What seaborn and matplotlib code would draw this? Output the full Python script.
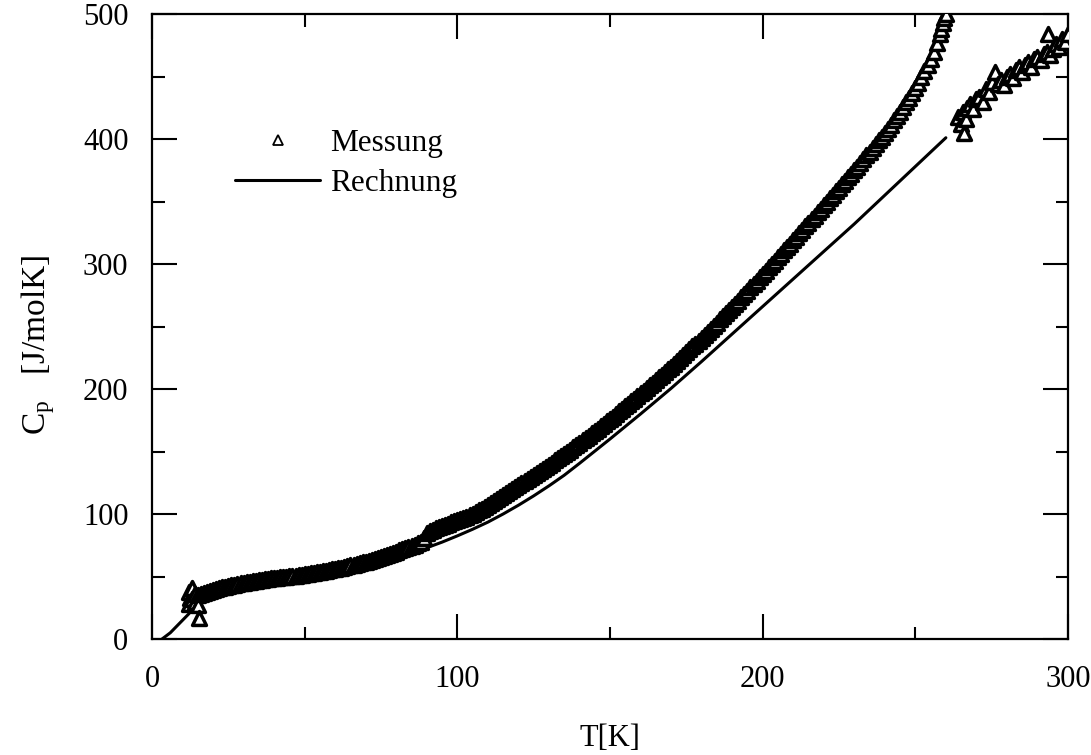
import matplotlib
matplotlib.use("Agg")
import matplotlib.pyplot as plt
import seaborn as sns
import pandas as pd
from matplotlib.lines import Line2D
from matplotlib.ticker import MultipleLocator

# ---- data ----
# low-temperature scatter cluster
meas0_T = [12, 12, 12.5, 13, 13, 14, 14, 15, 15, 15.4]
meas0_Cp = [38, 28, 33, 41, 32, 36, 30, 35, 27, 17]

# main measurement branch, 16 K .. 260 K
meas1_T = [16, 17, 18, 19, 20, 21, 22, 23, 24, 25, 26, 27, 28, 29, 30, 31, 32, 33, 34, 35,
           36, 37, 38, 39, 40, 41, 42, 43, 44, 45, 46, 47, 48, 49, 50, 51, 52, 53, 54, 55,
           56, 57, 58, 59, 60, 61, 62, 63, 64, 65, 66, 67, 68, 69, 70, 71, 72, 73, 74, 75,
           76, 77, 78, 79, 80, 81, 82, 83, 84, 85, 86, 87, 88, 89, 90, 91, 92, 93, 94, 95,
           96, 97, 98, 99, 100, 101, 102, 103, 104, 105, 106, 107, 108, 109, 110, 111, 112, 113, 114, 115,
           116, 117, 118, 119, 120, 121, 122, 123, 124, 125, 126, 127, 128, 129, 130, 131, 132, 133, 134, 135,
           136, 137, 138, 139, 140, 141, 142, 143, 144, 145, 146, 147, 148, 149, 150, 151, 152, 153, 154, 155,
           156, 157, 158, 159, 160, 161, 162, 163, 164, 165, 166, 167, 168, 169, 170, 171, 172, 173, 174, 175,
           176, 177, 178, 179, 180, 181, 182, 183, 184, 185, 186, 187, 188, 189, 190, 191, 192, 193, 194, 195,
           196, 197, 198, 199, 200, 201, 202, 203, 204, 205, 206, 207, 208, 209, 210, 211, 212, 213, 214, 215,
           216, 217, 218, 219, 220, 221, 222, 223, 224, 225, 226, 227, 228, 229, 230, 231, 232, 233, 234, 235,
           236, 237, 238, 239, 240, 241, 242, 243, 244, 245, 246, 247, 248, 249, 250, 251, 252, 253, 254, 255,
           256, 257, 258, 258.5, 259, 259.5, 260]
meas1_Cp = [36, 37, 38, 38.8, 39.5, 40.2, 41, 41.5, 42, 42.5, 43, 43.5, 44, 44.5, 45, 45.5, 46, 46.4, 46.8, 47.2,
            47.5, 47.9, 48.2, 48.6, 49, 49.2, 49.5, 49.8, 50, 50.3, 50.5, 50.8, 51, 51.4, 51.8, 52.1, 52.5, 53, 53.4, 53.9,
            54.3, 54.8, 55.2, 55.7, 56.2, 56.7, 57.2, 57.7, 58.3, 58.9, 59.5, 60.1, 60.7, 61.3, 62, 62.7, 63.5, 64.2, 65, 65.8,
            66.6, 67.4, 68.3, 69.1, 70, 70.9, 71.8, 72.7, 73.6, 74.5, 75.5, 76.6, 78, 81, 84.5, 86.5, 87.5, 88.5, 89.5, 90.5,
            91.5, 92.4, 93.3, 94.2, 95.2, 96.1, 97, 98, 99, 100.3, 101.6, 103, 104.4, 105.8, 107.3, 108.8, 110.3, 111.8, 113.4, 115,
            116.6, 118.3, 120, 121.8, 123.6, 125.2, 126.8, 128.4, 130, 131.6, 133.1, 134.7, 136.3, 137.9, 139.5, 141.2, 142.9, 144.6, 146.3, 148.1,
            149.8, 151.6, 153.4, 155.2, 157, 158.9, 160.8, 162.7, 164.6, 166.5, 168.4, 170.3, 172.2, 174.1, 176, 178, 180.1, 182.1, 184.2, 186.2,
            188.3, 190.3, 192.4, 194.4, 196.5, 198.6, 200.8, 202.9, 205.1, 207.2, 209.4, 211.5, 213.7, 215.8, 218, 220.3, 222.6, 224.9, 227.2, 229.5,
            231.8, 234.1, 236.4, 238.7, 241, 243.4, 245.9, 248.3, 250.8, 253.2, 255.7, 258.1, 260.6, 263, 265.5, 268.1, 270.8, 273.4, 276.1, 278.7,
            281.4, 284, 286.7, 289.3, 292, 294.7, 297.4, 300.1, 302.8, 305.5, 308.2, 310.9, 313.6, 316.3, 319, 321.8, 324.6, 327.4, 330.2, 333,
            335.8, 338.6, 341.4, 344.2, 347, 349.8, 352.6, 355.4, 358.2, 361, 363.8, 366.6, 369.4, 372.2, 375, 378, 381, 384, 387, 390,
            393, 396, 399, 402, 405, 408.3, 411.6, 415, 418.5, 422, 425.6, 429.3, 433.1, 437, 441, 445.2, 449.6, 454.2, 459, 464.2,
            470, 476.5, 484, 488, 492.5, 496.5, 500]

# high-temperature branch, 264 K .. 300 K
meas2_T = [264, 265, 265.5, 266, 266.5, 267, 268, 269, 270, 271, 272, 273, 274, 275, 276, 277, 278, 279, 280, 281,
           282, 283, 284, 285, 286, 287, 288, 289, 290, 291, 292, 293, 293.5, 294, 295, 296, 297, 298, 299, 300]
meas2_Cp = [418, 412, 422, 405, 416, 425, 428, 424, 432, 434, 430, 440, 438, 446, 454, 444, 447, 443, 450, 452,
            449, 455, 458, 454, 459, 462, 458, 464, 466, 463, 468, 470, 484, 467, 472, 476, 474, 480, 478, 484]

calc_T = [3.3, 6, 8, 10, 12, 14, 16, 18, 20, 25, 30, 40, 50, 60, 70, 80, 90, 95, 100, 105,
          110, 115, 120, 125, 130, 135, 140, 150, 160, 170, 180, 190, 200, 210, 220, 230, 240, 250, 260]
calc_Cp = [0, 5, 10, 15, 20, 25, 29, 32, 35, 39, 42, 46, 50, 54, 59, 65, 73, 77.5, 82.5, 87.8,
           93.5, 100, 107, 114.5, 122.5, 131, 140.5, 160, 180, 200.5, 222, 244, 266, 288, 310, 332, 355, 378, 401]

x_ticks = [0, 100, 200, 300]
y_ticks = [0, 100, 200, 300, 400, 500]

# ---- style ----
sns.set_style("ticks")
plt.rcParams["font.family"] = ["Liberation Serif", "DejaVu Serif"]
plt.rcParams["mathtext.fontset"] = "custom"
plt.rcParams["mathtext.rm"] = "Liberation Serif"
plt.rcParams["mathtext.it"] = "Liberation Serif:italic"
plt.rcParams["text.color"] = "black"
plt.rcParams["axes.labelcolor"] = "black"
plt.rcParams["xtick.color"] = "black"
plt.rcParams["ytick.color"] = "black"

fig = plt.figure(figsize=(10.91, 7.55), dpi=100)
ax = fig.add_axes([152 / 1091, 1 - 639 / 755, (1068 - 152) / 1091, (639 - 14) / 755])

df_meas = pd.DataFrame({"T": meas0_T + meas1_T + meas2_T,
                        "Cp": meas0_Cp + meas1_Cp + meas2_Cp})
df_calc = pd.DataFrame({"T": calc_T, "Cp": calc_Cp})

sns.lineplot(data=df_calc, x="T", y="Cp", ax=ax, color="black", lw=2.2, sort=True, zorder=2)
sns.scatterplot(data=df_meas, x="T", y="Cp", ax=ax, marker="^", s=100,
                facecolor="white", edgecolor="black", linewidth=2.5, zorder=3)

ax.set_xlim(0, 300)
ax.set_ylim(0, 500)
ax.set_xticks(x_ticks)
ax.set_yticks(y_ticks)
ax.xaxis.set_minor_locator(MultipleLocator(50))
ax.yaxis.set_minor_locator(MultipleLocator(50))
ax.tick_params(which="both", direction="in", top=True, right=True, width=1.5, colors="black")
ax.tick_params(which="major", length=18)
ax.tick_params(which="minor", length=9)
ax.tick_params(axis="x", which="major", labelsize=22, pad=19)
ax.tick_params(axis="y", which="major", labelsize=22, pad=17)
for s in ax.spines.values():
    s.set_linewidth(1.6)
    s.set_color("black")

ax.set_xlabel("T[K]", fontsize=22, labelpad=21)
ax.set_ylabel(r"C$_{\mathrm{p}}$   [J/molK]", fontsize=24)
ax.yaxis.set_label_coords(-0.104, 0.47)

handles = [
    Line2D([], [], marker="^", linestyle="none", markersize=7, markerfacecolor="white",
           markeredgecolor="black", markeredgewidth=1.3),
    Line2D([], [], color="black", lw=2.2),
]
ax.legend(handles, ["Messung", "Rechnung"], loc="upper left",
          bbox_to_anchor=(235 / 1091, 1 - 129 / 755), bbox_transform=fig.transFigure,
          frameon=False, fontsize=22.5, handlelength=2.72, handletextpad=0.32,
          borderpad=0, borderaxespad=0, labelspacing=0.35)

fig.savefig("out.png", dpi=100)
